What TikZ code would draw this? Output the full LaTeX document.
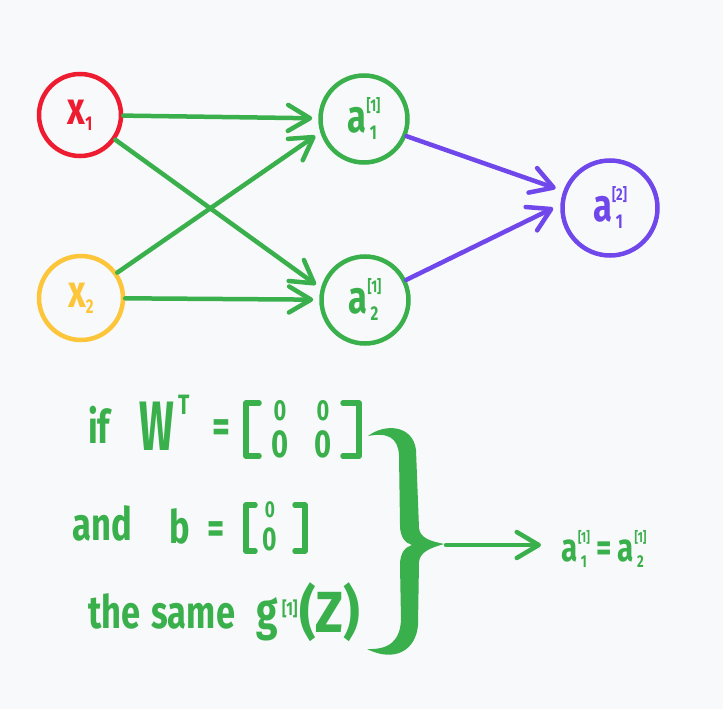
\documentclass[tikz,border=0pt]{standalone}
\usepackage{fontspec}
\newfontfamily\hand[FakeStretch=0.75]{Fira Sans}
\usetikzlibrary{arrows.meta}
\definecolor{bg}{HTML}{F8F9FA}
\definecolor{rd}{HTML}{EE1C31}
\definecolor{yl}{HTML}{FDC53A}
\definecolor{gr}{HTML}{39B04B}
\definecolor{pu}{HTML}{6F47EA}
\newcommand\fs[1]{\fontsize{#1}{#1}\selectfont}
\newcommand\supsub[2]{\makebox[15pt]{\raisebox{21pt}{\fs{17}#1}}\hspace{-15pt}\makebox[15pt]{\raisebox{-7pt}{\fs{20}#2}}}
\newcommand\lowsub[1]{\raisebox{-6pt}{\fs{20}#1}}
\tikzset{
  neuron/.style={circle, draw, line width=4.5pt, minimum size=#1, inner sep=0pt,
    font=\hand\bfseries\fs{46}},
  conn/.style={line width=4.5pt, line cap=round,
    -{Straight Barb[length=22pt,width=26pt,line cap=round,line join=round]}},
  txt/.style={inner sep=0pt, text=gr, font=\hand\bfseries\fs{46}},
  zero/.style={inner sep=0pt, text=gr, font=\hand\bfseries\fs{#1}},
  brk/.style={gr, line width=5.5pt, line cap=round, line join=round},
}
\begin{document}
\begin{tikzpicture}[x=1pt,y=-1pt]
\fill[bg] (0,0) rectangle (723,709);
\useasboundingbox (0,0) rectangle (723,709);

% network
\node[neuron=82pt, draw=rd, text=rd] (x1) at (80,115) {x\lowsub{1}};
\node[neuron=84pt, draw=yl, text=yl] (x2) at (81,298) {x\lowsub{2}};
\node[neuron=87pt, draw=gr, text=gr] (h1) at (364,119) {a\supsub{[1]}{1}};
\node[neuron=87pt, draw=gr, text=gr] (h2) at (365,300) {a\supsub{[1]}{2}};
\node[neuron=95pt, draw=pu, text=pu] (o) at (610,208) {a\supsub{[2]}{1}};

\draw[conn, gr, shorten >=6pt] (x1) -- (h1);
\draw[conn, gr, shorten >=6pt] (x1.-35) -- (h2.165);
\draw[conn, gr, shorten >=6pt] (x2.35) -- (h1.197);
\draw[conn, gr, shorten >=6pt] (x2) -- (h2);
\draw[conn, pu, shorten >=8pt] (h1.-22) -- (o.160);
\draw[conn, pu, shorten >=8pt] (h2.26) -- (o.176);

% line 1
\node[txt, anchor=base west] (if) at (88,443) {if};
\node[txt, anchor=base west, font=\hand\bfseries\fs{70}] (W) at (139,450) {\scalebox{0.78}[1]{W}};
\node[txt, anchor=base west] (T) at (178,414) {\fs{28}T};
\node[txt, font=\hand\bfseries\fs{46}] (eq1) at (221,431) {=};
\node[zero=29] (m11) at (280,411) {0};
\node[zero=29] (m12) at (323,411) {0};
\node[zero=39] (m21) at (280,444) {0};
\node[zero=39] (m22) at (323,444) {0};
\draw[brk] (259,403) -- (246,403) -- (246,456) -- (259,456);
\draw[brk] (343,403) -- (359,403) -- (359,456) -- (343,456);

% line 2
\node[txt, anchor=base west] (and) at (72,540) {and};
\node[txt, anchor=base west] (b) at (169,543) {b};
\node[txt, font=\hand\bfseries\fs{44}] (eq2) at (216,533) {=};
\node[zero=23] (v1) at (270,510) {0};
\node[zero=33] (v2) at (270,539) {0};
\draw[brk] (255,505) -- (246,505) -- (246,551) -- (255,551);
\draw[brk] (295,505) -- (305,505) -- (305,551) -- (295,551);

% line 3
\node[txt, anchor=base west] (same) at (88,628) {the\hspace{3pt} same};
\node[txt, anchor=base west, font=\hand\bfseries\fs{52}] (g) at (256,629) {g};
\node[txt, anchor=base west, font=\hand\bfseries\fs{19}] (gs) at (282,615) {[1]};
\node[txt, anchor=base west, font=\hand\bfseries\fs{58}] (Z) at (299,632) {\scalebox{1.18}[1]{(Z)}};

% brace (filled shape)
\fill[gr] (368,436)
  .. controls (385,423) and (413,425) .. (416,450)
  -- (419,528)
  .. controls (420,538) and (430,541) .. (444,544)
  .. controls (430,548) and (420,552) .. (419,562)
  -- (418,625)
  .. controls (416,650) and (395,663) .. (367,649)
  .. controls (390,650) and (400,640) .. (401,620)
  -- (400,565)
  .. controls (400,553) and (405,547) .. (412,545)
  .. controls (405,543) and (400,537) .. (400,525)
  -- (399,455)
  .. controls (398,438) and (388,432) .. (368,436) -- cycle;
\coordinate (bt) at (446,545);

% result
\node[txt, anchor=base west, font=\hand\bfseries\fs{46}] (res) at (561,561)
  {\scalebox{0.86}{a\supsub{[1]}{1}\hspace{7pt}=\hspace{7pt}a\supsub{[1]}{2}}};
\draw[conn, gr, shorten >=20pt] (bt) -- (bt -| res.west);
\end{tikzpicture}
\end{document}
